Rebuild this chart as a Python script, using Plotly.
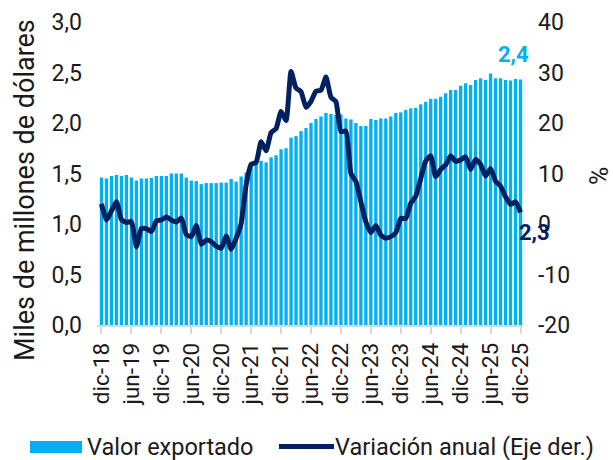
import plotly.graph_objects as go

months = ["dic-18","ene-19","feb-19","mar-19","abr-19","may-19","jun-19","jul-19","ago-19","sep-19","oct-19","nov-19",
          "dic-19","ene-20","feb-20","mar-20","abr-20","may-20","jun-20","jul-20","ago-20","sep-20","oct-20","nov-20",
          "dic-20","ene-21","feb-21","mar-21","abr-21","may-21","jun-21","jul-21","ago-21","sep-21","oct-21","nov-21",
          "dic-21","ene-22","feb-22","mar-22","abr-22","may-22","jun-22","jul-22","ago-22","sep-22","oct-22","nov-22",
          "dic-22","ene-23","feb-23","mar-23","abr-23","may-23","jun-23","jul-23","ago-23","sep-23","oct-23","nov-23",
          "dic-23","ene-24","feb-24","mar-24","abr-24","may-24","jun-24","jul-24","ago-24","sep-24","oct-24","nov-24",
          "dic-24","ene-25","feb-25","mar-25","abr-25","may-25","jun-25","jul-25","ago-25","sep-25","oct-25","nov-25",
          "dic-25"]

valor_exportado = [1.46, 1.45, 1.475, 1.485, 1.475, 1.485, 1.46, 1.43, 1.45, 1.45, 1.455, 1.475,
                   1.475, 1.475, 1.50, 1.50, 1.50, 1.46, 1.43, 1.425, 1.395, 1.405, 1.405, 1.405,
                   1.41, 1.41, 1.445, 1.42, 1.47, 1.51, 1.585, 1.61, 1.625, 1.61, 1.66, 1.68,
                   1.74, 1.75, 1.855, 1.87, 1.92, 1.95, 2.00, 2.04, 2.065, 2.10, 2.09, 2.08,
                   2.085, 2.045, 2.035, 2.00, 1.97, 1.97, 2.04, 2.03, 2.045, 2.045, 2.065, 2.10,
                   2.105, 2.13, 2.145, 2.15, 2.185, 2.21, 2.24, 2.24, 2.26, 2.295, 2.327, 2.327,
                   2.37, 2.393, 2.376, 2.426, 2.442, 2.426, 2.49, 2.442, 2.442, 2.426, 2.42, 2.436,
                   2.43]

variacion_anual = [4.0, 0.8, 2.6, 4.4, 0.9, 0.3, 0.5, -4.5, -0.9, -0.9, -1.5, 0.6,
                   0.8, 1.4, 0.8, 0.4, 1.2, -2.1, -2.5, -0.3, -4.0, -3.2, -3.5, -4.4,
                   -4.8, -2.4, -5.0, -2.8, 0.1, 7.8, 11.8, 12.2, 16.3, 14.5, 18.1, 18.9,
                   22.3, 20.5, 30.2, 26.9, 26.2, 23.1, 24.3, 26.3, 26.5, 29.1, 25.1, 24.2,
                   18.3, 18.4, 10.0, 8.4, 4.4, 0.4, -1.7, -0.3, -2.2, -2.8, -2.5, -1.7,
                   1.1, 1.1, 4.1, 5.5, 9.0, 12.5, 13.5, 9.4, 10.8, 11.7, 13.5, 12.4,
                   12.7, 13.3, 10.8, 12.8, 11.8, 9.5, 11.0, 8.5, 7.5, 5.4, 3.9, 4.4,
                   2.3]

tick_every = 6
left_ticks = [0.0, 0.5, 1.0, 1.5, 2.0, 2.5, 3.0]
right_ticks = [-20, -10, 0, 10, 20, 30, 40]
label_bar = "2,4"
label_line = "2,3"
legend_bar = "Valor exportado"
legend_line = "Variación anual (Eje der.)"
title_left = "Miles de millones de dólares"
title_right = "%"

BAR_COLOR = "#00B0F0"
LINE_COLOR = "#002060"
TEXT_COLOR = "#1a1a1a"
FONT = "Roboto"

W, H = 613, 460
ML, MR, MT, MB = 97, 90, 22, 135
PW, PH = W - ML - MR, H - MT - MB


def px(x):
    return (x - ML) / PW


def py(y):
    return (H - MB - y) / PH


idx = list(range(len(months)))
tickvals = idx[::tick_every]
ticktext = months[::tick_every]

fig = go.Figure()
fig.add_trace(go.Bar(
    x=idx, y=valor_exportado, name=legend_bar,
    marker=dict(color=BAR_COLOR, line=dict(width=0)),
    yaxis="y", showlegend=False,
))
fig.add_trace(go.Scatter(
    x=idx, y=variacion_anual, name=legend_line,
    mode="lines", line=dict(color=LINE_COLOR, width=5, shape="spline", smoothing=0.5),
    yaxis="y2", showlegend=False,
))

# value labels
fig.add_annotation(x=idx[-1], y=valor_exportado[-1], xref="x", yref="y",
                   text=f"<b>{label_bar}</b>", showarrow=False, xshift=-7, yshift=25,
                   font=dict(family=FONT, size=22, color=BAR_COLOR))
fig.add_annotation(x=idx[-1], y=variacion_anual[-1], xref="x", yref="y2",
                   text=f"<b>{label_line}</b>", showarrow=False, xshift=14, yshift=-20,
                   font=dict(family=FONT, size=22, color=LINE_COLOR))

# axis titles
fig.add_annotation(x=px(25), y=py(190), xref="paper", yref="paper", xanchor="center", yanchor="middle",
                   text=title_left, textangle=-90, showarrow=False,
                   font=dict(family=FONT, size=27, color=TEXT_COLOR))
fig.add_annotation(x=px(600), y=py(176), xref="paper", yref="paper", xanchor="center", yanchor="middle",
                   text=title_right, textangle=-90, showarrow=False,
                   font=dict(family=FONT, size=25, color=TEXT_COLOR))

# custom legend
fig.add_shape(type="rect", xref="paper", yref="paper",
              x0=px(30), x1=px(82), y0=py(453), y1=py(441),
              fillcolor=BAR_COLOR, line=dict(width=0))
fig.add_annotation(x=px(85), y=py(447), xref="paper", yref="paper", xanchor="left", yanchor="middle",
                   text=legend_bar, showarrow=False, font=dict(family=FONT, size=23.5, color=TEXT_COLOR))
fig.add_shape(type="line", xref="paper", yref="paper",
              x0=px(279), x1=px(334), y0=py(446.5), y1=py(446.5),
              line=dict(color=LINE_COLOR, width=5))
fig.add_annotation(x=px(333), y=py(447), xref="paper", yref="paper", xanchor="left", yanchor="middle",
                   text=legend_line, showarrow=False, font=dict(family=FONT, size=23.5, color=TEXT_COLOR))

fig.update_layout(
    width=W, height=H,
    margin=dict(l=ML, r=MR, t=MT, b=MB, autoexpand=False),
    paper_bgcolor="white", plot_bgcolor="white",
    font=dict(family=FONT, size=21, color=TEXT_COLOR),
    bargap=0.33,
    showlegend=False,
    xaxis=dict(range=[-0.9, 84.5], tickmode="array", tickvals=tickvals, ticktext=ticktext,
               tickangle=-90, ticks="outside", ticklen=7, tickcolor="#D9D9D9", tickwidth=1.5,
               showline=True, linecolor="#D9D9D9", linewidth=1.5, showgrid=False, zeroline=False,
               automargin=False,
               tickfont=dict(family=FONT, size=22.5, color=TEXT_COLOR)),
    yaxis=dict(range=[0, 3.0], tickvals=left_ticks, ticktext=[f"{v:.1f}".replace(".", ",") for v in left_ticks],
               showgrid=False, zeroline=False, showline=False, ticks="", ticklabelstandoff=14,
               automargin=False,
               tickfont=dict(family=FONT, size=23, color=TEXT_COLOR)),
    yaxis2=dict(range=[-20, 40], tickvals=right_ticks, ticktext=[str(v) for v in right_ticks],
                overlaying="y", side="right", showgrid=False, zeroline=False, showline=False,
                ticks="", ticklabelstandoff=14, automargin=False,
                tickfont=dict(family=FONT, size=23, color=TEXT_COLOR)),
)

fig.write_html(
    "out.html",
    config={"displayModeBar": False},
    post_script="document.body.style.margin='0';document.body.style.padding='0';document.body.style.overflow='hidden';",
)
